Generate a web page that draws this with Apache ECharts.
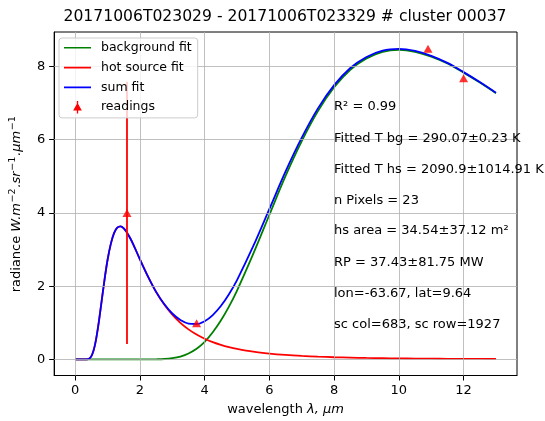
<!DOCTYPE html>
<html>
<head>
<meta charset="utf-8">
<script src="https://cdn.jsdelivr.net/npm/echarts@6/dist/echarts.min.js"></script>
<style>
  html, body { margin: 0; padding: 0; background: #fff; }
  #chart { width: 545px; height: 421px; }
</style>
</head>
<body>
<div id="chart"></div>
<script>
// Sampled wavelengths (µm) for the fitted curves
const wavelength = [0, 0.2, 0.3, 0.4, 0.45, 0.5, 0.55, 0.6, 0.65, 0.7, 0.75, 0.8, 0.9, 1.0, 1.1, 1.2, 1.3, 1.4, 1.5, 1.6,
  1.7, 1.8, 2.0, 2.25, 2.5, 2.75, 3.0, 3.25, 3.5, 3.75, 4.0, 4.25, 4.5, 4.75, 5.0, 5.5, 6.0, 6.5, 7.0, 7.5,
  8.0, 8.5, 9.0, 9.5, 10.0, 10.5, 11.0, 11.5, 12.0, 12.5, 13.0];

// Background (290 K) fit radiance
const backgroundFit = [0, 0, 0, 0, 0, 0, 0, 0, 0, 0, 0, 0, 0, 0, 0, 0, 0, 0, 0, 0,
  0, 0, 0, 0, 0.003, 0.011, 0.033, 0.078, 0.16, 0.29, 0.48, 0.74, 1.06, 1.44, 1.88, 2.88, 3.95, 5.01, 5.96, 6.78,
  7.43, 7.91, 8.22, 8.40, 8.45, 8.40, 8.27, 8.08, 7.83, 7.56, 7.27];

// Hot source (2091 K) fit radiance
const hotSourceFit = [0, 0, 0, 0.009, 0.033, 0.089, 0.193, 0.355, 0.575, 0.846, 1.154, 1.48, 2.14, 2.72, 3.155, 3.45, 3.595, 3.63, 3.578, 3.46,
  3.307, 3.13, 2.73, 2.26, 1.84, 1.50, 1.22, 0.997, 0.819, 0.677, 0.563, 0.471, 0.396, 0.335, 0.286, 0.210, 0.158, 0.121, 0.094, 0.074,
  0.059, 0.048, 0.039, 0.033, 0.027, 0.022, 0.019, 0.016, 0.014, 0.012, 0.010];

// Sum of both fits
const sumFit = [0, 0, 0, 0.009, 0.033, 0.089, 0.193, 0.355, 0.575, 0.846, 1.154, 1.48, 2.14, 2.72, 3.155, 3.45, 3.595, 3.63, 3.578, 3.46,
  3.307, 3.13, 2.73, 2.26, 1.843, 1.511, 1.253, 1.075, 0.979, 0.967, 1.043, 1.211, 1.456, 1.779, 2.166, 3.09, 4.108, 5.131, 6.054, 6.854,
  7.489, 7.958, 8.259, 8.433, 8.477, 8.422, 8.289, 8.096, 7.844, 7.572, 7.28];

// Measured readings with their uncertainties
const readingWavelength = [1.6, 3.75, 10.9, 12.0];
const readingRadiance = [4.0, 0.99, 8.48, 7.68];
const readingError = [3.58, 0, 0, 0];

// Tick positions
const xTicks = [0, 2, 4, 6, 8, 10, 12];
const yTicks = [0, 2, 4, 6, 8];

// Fit statistics printed beside the curves
const statLines = [
  'R² = 0.99',
  'Fitted T bg = 290.07±0.23 K',
  'Fitted T hs = 2090.9±1014.91 K',
  'n Pixels = 23',
  'hs area = 34.54±37.12 m²',
  'RP = 37.43±81.75 MW',
  'lon=-63.67, lat=9.64',
  'sc col=683, sc row=1927'
];
const statY = [106.5, 138.5, 170, 200.5, 231, 263, 293.5, 325];

const FONT = 'DejaVu Sans';
const chart = echarts.init(document.getElementById('chart'), null, { renderer: 'canvas' });

const pairs = (xs, ys) => xs.map((x, i) => [x, ys[i]]);

const fitSeries = (name, values, color, z) => ({
  type: 'line', name, data: pairs(wavelength, values),
  symbol: 'none', showSymbol: false, smooth: 0.35,
  lineStyle: { color, width: 1.8 }, itemStyle: { color },
  z, silent: true
});

const gridLineStyle = { color: '#b0b0b0', width: 0.8, type: 'solid' };
// legend handle: a short horizontal stroke (corner points fix the icon box)
const lineIcon = 'path://M0,0L0,0ZM28,14L28,14ZM0,6.1L28,6.1L28,7.9L0,7.9Z';
const readingIcon = 'path://M0,0L0,0ZM28,14L28,14ZM13.3,0.5L14.7,0.5L14.7,13.5L13.3,13.5ZM14,2.5L18.5,10.5L9.5,10.5Z';

const axisNameRich = {
  it: { fontFamily: FONT, fontSize: 13, fontStyle: 'italic', color: '#000', lineHeight: 18 },
  sup: { fontFamily: FONT, fontSize: 9.5, color: '#000', verticalAlign: 'top', lineHeight: 12, padding: [0, 1, 0, 0.5] }
};

const option = {
  animation: false,
  backgroundColor: '#fff',
  textStyle: { fontFamily: FONT },
  title: {
    text: '20171006T023029 - 20171006T023329 # cluster 00037',
    left: 285, top: 9, textAlign: 'center', padding: 0,
    textStyle: { fontFamily: FONT, fontSize: 15.6, fontWeight: 'normal', color: '#000' }
  },
  grid: {
    left: 53, top: 32, width: 464, height: 346,
    show: true, borderColor: '#000', borderWidth: 1, backgroundColor: 'transparent'
  },
  legend: {
    orient: 'vertical', left: 59, top: 38, z: 10,
    padding: [3, 6, 4, 5], itemGap: 6.3, itemWidth: 27, itemHeight: 14,
    backgroundColor: 'rgba(255,255,255,0.8)', borderColor: '#cccccc', borderWidth: 1, borderRadius: 3,
    textStyle: { fontFamily: FONT, fontSize: 12.5, color: '#000', padding: [0, 0, 0, 5] },
    selectedMode: false,
    data: [
      { name: 'background fit', icon: lineIcon },
      { name: 'hot source fit', icon: lineIcon },
      { name: 'sum fit', icon: lineIcon },
      { name: 'readings', icon: readingIcon }
    ]
  },
  xAxis: {
    type: 'value', min: -0.65, max: 13.65,
    axisLine: { show: true, onZero: false, lineStyle: { color: '#000', width: 1 } },
    axisTick: { show: true, customValues: xTicks, length: 5, lineStyle: { color: '#000', width: 1 } },
    axisLabel: { customValues: xTicks, fontFamily: FONT, fontSize: 13, color: '#000', margin: 9 },
    splitLine: { show: false },
    name: 'wavelength {it|λ, μm}', nameLocation: 'middle', nameGap: 25,
    nameTextStyle: { fontFamily: FONT, fontSize: 13, color: '#000', rich: axisNameRich }
  },
  yAxis: {
    type: 'value', min: -0.44, max: 8.94,
    axisLine: { show: true, onZero: false, lineStyle: { color: '#000', width: 1 } },
    axisTick: { show: true, customValues: yTicks, length: 5, lineStyle: { color: '#000', width: 1 } },
    axisLabel: { customValues: yTicks, fontFamily: FONT, fontSize: 13, color: '#000', margin: 9 },
    splitLine: { show: false },
    name: 'radiance {it|W.m}{sup|−2}{it|.sr}{sup|−1}{it|.μm}{sup|−1}', nameLocation: 'middle', nameGap: 26,
    nameTextStyle: { fontFamily: FONT, fontSize: 13, color: '#000', lineHeight: 18, rich: axisNameRich }
  },
  series: [
    {
      // grid lines at the tick positions
      type: 'line', name: 'gridlines', data: [], z: 1, silent: true,
      markLine: {
        silent: true, symbol: 'none', animation: false,
        label: { show: false }, lineStyle: gridLineStyle,
        emphasis: { disabled: true },
        data: xTicks.map(v => ({ xAxis: v })).concat(yTicks.map(v => ({ yAxis: v })))
      }
    },
    fitSeries('background fit', backgroundFit, '#008000', 2),
    fitSeries('hot source fit', hotSourceFit, '#ff0000', 3),
    fitSeries('sum fit', sumFit, '#0000ff', 4),
    {
      type: 'custom', name: 'readings', z: 5, silent: true,
      data: readingWavelength.map((x, i) => [x, readingRadiance[i], readingError[i]]),
      itemStyle: { color: '#ff0000' },
      renderItem(params, api) {
        const err = api.value(2);
        if (!err) return { type: 'group', children: [] };
        const x = api.value(0), y = api.value(1);
        const a = api.coord([x, y + err]);
        const b = api.coord([x, y - err]);
        return {
          type: 'line',
          shape: { x1: a[0], y1: a[1], x2: b[0], y2: b[1] },
          style: { stroke: '#ff0000', lineWidth: 1.8 }
        };
      }
    },
    {
      type: 'scatter', name: 'readings', z: 6, silent: true,
      data: pairs(readingWavelength, readingRadiance),
      symbol: 'triangle', symbolSize: [9, 8],
      itemStyle: { color: '#ff0000' }
    }
  ],
  graphic: statLines.map((t, i) => ({
    type: 'text', x: 334, y: statY[i], z: 10, silent: true,
    style: { text: t, font: '13px "DejaVu Sans"', fill: '#000', verticalAlign: 'middle', align: 'left' }
  }))
};

chart.setOption(option);
</script>
</body>
</html>
